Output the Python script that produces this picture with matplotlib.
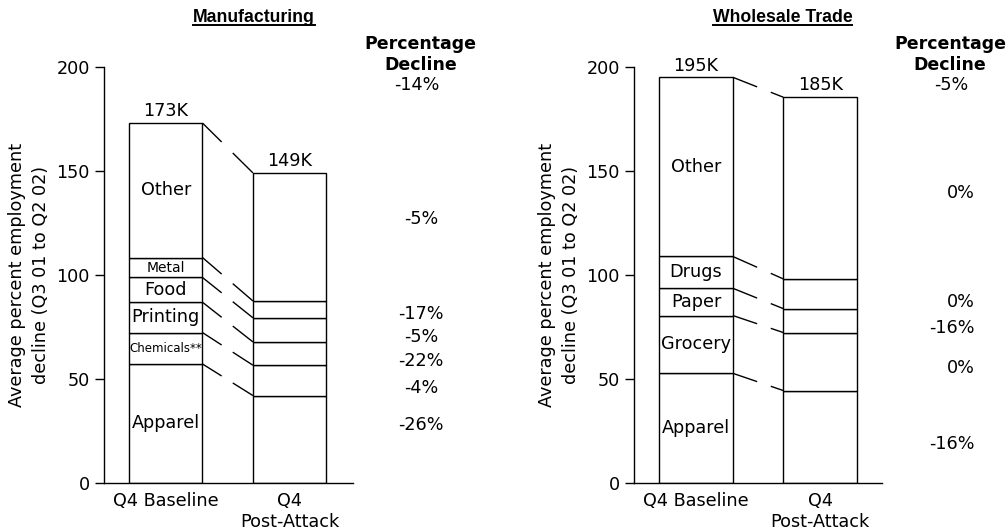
import matplotlib
matplotlib.use("Agg")
import matplotlib.pyplot as plt
from matplotlib.lines import Line2D
import numpy as np

# ---------------- data ----------------
bar_labels = ["Q4 Baseline", "Q4\nPost-Attack"]

manu_cats = ["Apparel", "Chemicals**", "Printing", "Food", "Metal", "Other"]
manu_base = [57.1, 15.1, 14.6, 11.9, 9.6, 64.7]
manu_post = [41.9, 14.6, 11.2, 11.6, 8.1, 61.6]
manu_totals = ["173K", "149K"]
manu_pct = ["-26%", "-4%", "-22%", "-5%", "-17%", "-5%"]
manu_pct_total = "-14%"

whol_cats = ["Apparel", "Grocery", "Paper", "Drugs", "Other"]
whol_base = [52.6, 27.8, 13.1, 15.3, 86.2]
whol_post = [44.3, 27.9, 11.5, 14.3, 87.4]
whol_totals = ["195K", "185K"]
whol_pct = ["-16%", "0%", "-16%", "0%", "0%"]
whol_pct_total = "-5%"

# layout-only: vertical placement of the percentage labels (data units)
manu_pct_y = [27.8, 45.4, 58.6, 70.3, 81.1, 126.9]
whol_pct_y = [18.6, 55.0, 74.6, 87.1, 139.2]
manu_cat_sizes = [12.7, 8.5, 12.7, 12.7, 10, 12.7]
whol_cat_sizes = [12.7, 12.7, 12.7, 12.7, 12.7]

FS = 12.7
plt.rcParams["font.family"] = ["DejaVu Sans"]

fig = plt.figure(figsize=(10.08, 5.31), dpi=100)
ax1 = fig.add_axes([0.1035, 0.091, 0.2464, 0.783])
ax2 = fig.add_axes([0.6293, 0.091, 0.2460, 0.783])

W = 0.593


def panel(ax, cats, base, post, totals, pct, pct_y, sizes, xlim, gap, pct_x, pct_ha):
    xs = [0, 1]
    b_bottom = 0.0
    p_bottom = 0.0
    b_tops, p_tops = [], []
    for i, cat in enumerate(cats):
        ax.bar(xs[0], base[i], W, bottom=b_bottom, color="white", edgecolor="black", linewidth=1.0)
        ax.bar(xs[1], post[i], W, bottom=p_bottom, color="white", edgecolor="black", linewidth=1.0)
        ax.text(xs[0], b_bottom + base[i] / 2, cat, ha="center", va="center", fontsize=sizes[i])
        b_bottom += base[i]
        p_bottom += post[i]
        b_tops.append(b_bottom)
        p_tops.append(p_bottom)
    # connectors
    x0 = xs[0] + W / 2
    x1 = xs[1] - W / 2
    for bt, pt in zip(b_tops, p_tops):
        for f0, f1 in [(0.0, gap[0]), (gap[1], 1.0)]:
            ax.plot([x0 + (x1 - x0) * f0, x0 + (x1 - x0) * f1],
                    [bt + (pt - bt) * f0, bt + (pt - bt) * f1],
                    color="black", linewidth=1.0, solid_capstyle="butt")
    # totals
    ax.annotate(totals[0], (xs[0], b_tops[-1]), xytext=(0, 2), textcoords="offset points",
                ha="center", va="bottom", fontsize=FS)
    ax.annotate(totals[1], (xs[1], p_tops[-1]), xytext=(0, 2), textcoords="offset points",
                ha="center", va="bottom", fontsize=FS)
    # percentages
    tr = ax.get_yaxis_transform()
    for s, y in zip(pct, pct_y):
        ax.text(pct_x, y, s, transform=tr, ha=pct_ha, va="center", fontsize=FS, clip_on=False)

    ax.set_xlim(*xlim)
    ax.set_ylim(0, 200)
    ax.set_yticks([0, 50, 100, 150, 200])
    ax.set_xticks(xs)
    ax.set_xticklabels(bar_labels, fontsize=FS, linespacing=1.15)
    ax.tick_params(axis="x", length=0, pad=7)
    ax.tick_params(axis="y", length=6.5, width=1.0, direction="out", pad=4, labelsize=FS)
    for sp in ["top", "right"]:
        ax.spines[sp].set_visible(False)
    for sp in ["left", "bottom"]:
        ax.spines[sp].set_linewidth(1.0)
    ax.set_ylabel("Average percent employment\ndecline (Q3 01 to Q2 02)", fontsize=FS, linespacing=1.4)
    ax.yaxis.set_label_coords(-0.219, 0.5)


panel(ax1, manu_cats, manu_base, manu_post, manu_totals, manu_pct, manu_pct_y,
      manu_cat_sizes, (-0.495, 1.508), (0.38, 0.60), 1.275, "center")
panel(ax2, whol_cats, whol_base, whol_post, whol_totals, whol_pct, whol_pct_y,
      whol_cat_sizes, (-0.497, 1.5), (0.48, 0.75), 1.374, "right")

# headers
fig.text(420.7 / 1008, 1 - 54.5 / 531, "Percentage\nDecline", ha="center", va="center",
         fontsize=12.5, fontweight="bold", linespacing=1.2)
fig.text(416.7 / 1008, 1 - 85 / 531, manu_pct_total, ha="center", va="center", fontsize=FS)
fig.text(950 / 1008, 1 - 54.5 / 531, "Percentage\nDecline", ha="center", va="center",
         fontsize=12.5, fontweight="bold", linespacing=1.2)
fig.text(951.7 / 1008, 1 - 85 / 531, whol_pct_total, ha="center", va="center", fontsize=FS)

# underlined titles
titles = []
for xc, s in [(254 / 1008, "Manufacturing"), (782.4 / 1008, "Wholesale Trade")]:
    t = fig.text(xc, 1 - 22 / 531, s, ha="center", va="baseline", fontsize=12.7,
                 fontweight="bold", family="Liberation Sans")
    titles.append(t)

fig.canvas.draw()
r = fig.canvas.get_renderer()
for t in titles:
    bb = t.get_window_extent(renderer=r)
    yline = 1 - 24.5 / 531
    fig.add_artist(Line2D([bb.x0 / 1008, bb.x1 / 1008], [yline, yline],
                          transform=fig.transFigure, color="black", linewidth=1.4))

fig.savefig("out.png", dpi=100)
